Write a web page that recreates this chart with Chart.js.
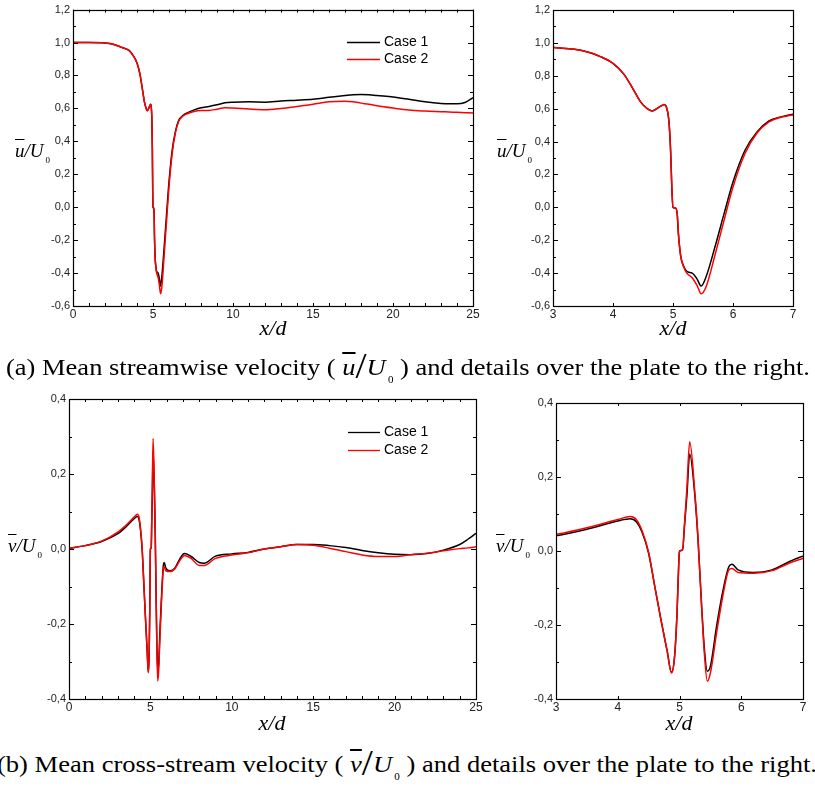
<!DOCTYPE html>
<html>
<head>
<meta charset="utf-8">
<title>Mean velocity profiles</title>
<script src="https://cdn.jsdelivr.net/npm/chart.js@4.4.1/dist/chart.umd.min.js"></script>
<style>
  body { margin: 0; background: #fff; }
  #page { position: relative; width: 815px; height: 801px; overflow: hidden; background: #fff; }
  #page canvas { position: absolute; }
  .serif { font-family: "Liberation Serif", "Times New Roman", Times, serif; }
  .xtitle { position: absolute; font-style: italic; font-size: 22px; line-height: 22px; transform: translateX(-50%); white-space: nowrap; color: #000; }
  .ytitle { position: absolute; font-style: italic; font-size: 19px; line-height: 19px; white-space: nowrap; color: #000; }
  .ov { text-decoration: overline; }
  .s0 { font-style: normal; font-size: 9px; position: relative; top: 6px; margin-left: 2px; }
  .cap { position: absolute; font-size: 24px; line-height: 26px; white-space: nowrap; transform-origin: 0 0; color: #000; }
  .cap i { font-style: italic; }
  .cap .sl { font-size: 1.5em; line-height: 0; position: relative; top: 3px; }
  .cap .c0 { font-size: 10px; position: relative; top: 8px; margin-left: 2px; }
</style>
</head>
<body>
<div id="page">
  <canvas id="uFull" width="490" height="325" style="left:0px;top:0px"></canvas>
  <canvas id="uPlate" width="315" height="325" style="left:500px;top:0px"></canvas>
  <canvas id="vFull" width="490" height="335" style="left:0px;top:385px"></canvas>
  <canvas id="vPlate" width="315" height="335" style="left:500px;top:385px"></canvas>

  <div class="xtitle serif" style="left:273px;top:317px">x/d</div>
  <div class="xtitle serif" style="left:673px;top:317px">x/d</div>
  <div class="xtitle serif" style="left:272px;top:712px">x/d</div>
  <div class="xtitle serif" style="left:679px;top:712px">x/d</div>

  <div class="ytitle serif" style="left:15px;top:141px"><span class="ov">u</span>/U<span class="s0">0</span></div>
  <div class="ytitle serif" style="left:497px;top:141px"><span class="ov">u</span>/U<span class="s0">0</span></div>
  <div class="ytitle serif" style="left:8px;top:536px"><span class="ov">v</span>/U<span class="s0">0</span></div>
  <div class="ytitle serif" style="left:496px;top:536px"><span class="ov">v</span>/U<span class="s0">0</span></div>

  <div class="cap serif" id="capA" style="top:354px">(a) Mean streamwise velocity ( <i class="ov">u</i><span class="sl">/</span><i>U</i><span class="c0">0</span> ) and details over the plate to the right.</div>
  <div class="cap serif" id="capB" style="top:751px">(b) Mean cross-stream velocity ( <i class="ov">v</i><span class="sl">/</span><i>U</i><span class="c0">0</span> ) and details over the plate to the right.</div>
</div>

<script>
// streamwise velocity u/U0 along x/d
var xU = [0, 1, 2, 2.5, 3, 3.5, 3.8, 4, 4.18, 4.34, 4.46, 4.57, 4.65, 4.75, 4.82, 4.85, 4.89, 4.93, 4.96, 4.98,
  5.0, 5.04, 5.07, 5.09, 5.13, 5.18, 5.23, 5.32, 5.4, 5.47, 5.55, 5.7, 5.85, 6.0, 6.2, 6.4, 6.6, 6.8, 7.0, 7.5,
  8, 8.5, 9, 9.5, 10, 11, 12, 13, 14, 15, 16, 17, 17.5, 18, 18.5, 19, 20, 21, 22, 23, 23.5, 24, 24.5, 25];
var uCase1 = [1.0, 1.0, 0.997, 0.99, 0.972, 0.952, 0.915, 0.875, 0.81, 0.716, 0.641, 0.6, 0.586, 0.605, 0.62, 0.625, 0.61, 0.53, 0.347, 0.124,
  0.0, -0.004, -0.04, -0.16, -0.3, -0.36, -0.39, -0.4, -0.435, -0.479, -0.424, -0.24, -0.04, 0.154, 0.347, 0.459, 0.526, 0.55, 0.566, 0.588,
  0.604, 0.612, 0.622, 0.634, 0.638, 0.64, 0.638, 0.645, 0.65, 0.656, 0.667, 0.678, 0.683, 0.685, 0.683, 0.678, 0.669, 0.655, 0.64, 0.63, 0.628, 0.628, 0.636, 0.665];
var uCase2 = [1.0, 1.0, 0.997, 0.99, 0.972, 0.952, 0.915, 0.875, 0.81, 0.716, 0.641, 0.6, 0.586, 0.605, 0.62, 0.625, 0.61, 0.53, 0.347, 0.124,
  0.0, -0.004, -0.04, -0.16, -0.3, -0.365, -0.4, -0.428, -0.475, -0.526, -0.485, -0.29, -0.08, 0.124, 0.327, 0.452, 0.52, 0.548, 0.562, 0.58,
  0.588, 0.588, 0.595, 0.604, 0.602, 0.596, 0.592, 0.6, 0.612, 0.625, 0.64, 0.644, 0.64, 0.632, 0.625, 0.616, 0.602, 0.59, 0.584, 0.58, 0.578, 0.576, 0.574, 0.572];

// cross-stream velocity v/U0 along x/d
var xV = [0, 1, 2, 3, 3.5, 4, 4.2, 4.3, 4.4, 4.5, 4.6, 4.7, 4.8, 4.87, 4.92, 4.96, 4.99, 5.0, 5.05, 5.08,
  5.12, 5.165, 5.25, 5.3, 5.35, 5.4, 5.45, 5.5, 5.6, 5.7, 5.8, 5.85, 5.95, 6.2, 6.5, 6.8, 7.0, 7.1, 7.5, 8,
  8.3, 9, 10, 11, 12, 13, 14, 15, 16, 17, 18, 19, 20, 21, 22, 23, 24, 24.5, 25];
var vCase1 = [0.002, 0.009, 0.02, 0.041, 0.059, 0.081, 0.087, 0.079, 0.048, -0.006, -0.096, -0.186, -0.27, -0.328, -0.285, -0.168, -0.024, 0.0, 0.003, 0.066,
  0.15, 0.262, 0.147, 0.03, -0.123, -0.258, -0.325, -0.312, -0.204, -0.11, -0.042, -0.036, -0.051, -0.058, -0.051, -0.027, -0.014, -0.012, -0.02, -0.036,
  -0.038, -0.019, -0.013, -0.009, 0.0, 0.006, 0.012, 0.012, 0.009, 0.004, -0.004, -0.01, -0.014, -0.015, -0.012, -0.003, 0.012, 0.026, 0.042];
var vCase2 = [0.002, 0.009, 0.021, 0.045, 0.063, 0.085, 0.093, 0.085, 0.052, -0.004, -0.096, -0.186, -0.27, -0.33, -0.287, -0.168, -0.024, 0.0, 0.003, 0.07,
  0.17, 0.295, 0.155, 0.035, -0.125, -0.27, -0.352, -0.33, -0.222, -0.123, -0.051, -0.047, -0.058, -0.06, -0.053, -0.031, -0.02, -0.017, -0.025, -0.044,
  -0.044, -0.025, -0.016, -0.01, 0.0, 0.006, 0.012, 0.01, 0.002, -0.007, -0.016, -0.02, -0.02, -0.015, -0.011, -0.005, 0.001, 0.003, 0.006];

var caseNames = ["Case 1", "Case 2"];
var caseColors = ["#000000", "#ff0000"];

// axis ranges: [min, max, major step]
var xWake = [0, 25, 5];
var xPlate = [3, 7, 1];
var uAxis = [-0.6, 1.2, 0.2];
var vAxis = [-0.4, 0.4, 0.2];

var sansFont = "'Liberation Sans', Arial, Helvetica, sans-serif";

function toPoints(xs, ys) {
  return xs.map(function (x, i) { return { x: x, y: ys[i] }; });
}

function fmtComma(value) {
  if (Math.abs(value) < 1e-9) value = 0;
  return value.toFixed(1).replace(".", ",");
}

// box frame with inward ticks on all four sides
var framePlugin = {
  id: "frame",
  afterDatasetsDraw: function (chart, args, opts) {
    var a = chart.chartArea;
    var ctx = chart.ctx;
    var sx = chart.scales.x, sy = chart.scales.y;
    ctx.save();
    ctx.strokeStyle = "#000";
    ctx.lineWidth = 1;
    ctx.beginPath();
    var n = Math.round((sx.max - sx.min) / opts.xStep);
    for (var i = 0; i <= n; i++) {
      var px = Math.round(sx.getPixelForValue(sx.min + i * opts.xStep)) + 0.5;
      ctx.moveTo(px, a.bottom); ctx.lineTo(px, a.bottom - opts.xLen);
      ctx.moveTo(px, a.top); ctx.lineTo(px, a.top + opts.xLen);
    }
    var m = Math.round((sy.max - sy.min) / opts.yStep);
    for (var j = 0; j <= m; j++) {
      var len = (j % opts.yMajorEvery === 0) ? 5 : 3;
      var py = Math.round(sy.getPixelForValue(sy.min + j * opts.yStep)) + 0.5;
      ctx.moveTo(a.left, py); ctx.lineTo(a.left + len, py);
      ctx.moveTo(a.right, py); ctx.lineTo(a.right - len, py);
    }
    ctx.stroke();
    ctx.lineWidth = 1.2;
    ctx.strokeRect(Math.round(a.left) + 0.5, Math.round(a.top) + 0.5, Math.round(a.right - a.left), Math.round(a.bottom - a.top));
    ctx.restore();
  }
};

// small legend placed inside the plot
var caseLegend = {
  id: "caseLegend",
  afterDraw: function (chart, args, opts) {
    if (!opts.show) return;
    var ctx = chart.ctx;
    ctx.save();
    ctx.font = "14px " + sansFont;
    ctx.textBaseline = "middle";
    ctx.fillStyle = "#000";
    var legendSets = chart.data.datasets.slice().sort(function (p, q) { return p.legendRank - q.legendRank; });
    legendSets.forEach(function (ds, k) {
      var y = opts.y + k * opts.gap + 0.5;
      ctx.strokeStyle = ds.borderColor;
      ctx.lineWidth = 1.3;
      ctx.beginPath();
      ctx.moveTo(opts.x, y);
      ctx.lineTo(opts.x + opts.len, y);
      ctx.stroke();
      ctx.fillText(ds.label, opts.x + opts.len + 4, y);
    });
    ctx.restore();
  }
};

function makePanel(id, xs, s1, s2, xr, yr, layout) {
  var ctx = document.getElementById(id).getContext("2d");
  var sets = [s1, s2].map(function (s, k) {
    return {
      label: caseNames[k],
      data: toPoints(xs, s),
      borderColor: caseColors[k],
      borderWidth: 1.5,
      pointRadius: 0,
      fill: false,
      cubicInterpolationMode: "monotone",
      order: k === 0 ? 1 : 0,
      legendRank: k
    };
  });
  return new Chart(ctx, {
    type: "line",
    data: { datasets: sets },
    plugins: [framePlugin, caseLegend],
    options: {
      responsive: false,
      animation: false,
      devicePixelRatio: 1,
      layout: { padding: layout.pad, autoPadding: false },
      plugins: {
        legend: { display: false },
        tooltip: { enabled: false },
        frame: { xStep: layout.xTick, xLen: 3, yStep: yr[2] / 2, yMajorEvery: 2 },
        caseLegend: layout.legend
      },
      scales: {
        x: {
          type: "linear",
          min: xr[0],
          max: xr[1],
          ticks: {
            stepSize: xr[2],
            maxRotation: 0,
            padding: 1,
            color: "#222",
            font: { family: sansFont, size: 12 },
            callback: function (v) { return String(v); }
          },
          grid: { display: false, drawTicks: false },
          border: { display: false },
          afterFit: function (scale) { scale.height = 16; }
        },
        y: {
          min: yr[0],
          max: yr[1],
          ticks: {
            stepSize: yr[2],
            padding: 3,
            color: "#222",
            font: { family: sansFont, size: 11 },
            callback: function (v) { return fmtComma(v); }
          },
          grid: { display: false, drawTicks: false },
          border: { display: false },
          afterFit: function (scale) { scale.width = 50; }
        }
      }
    }
  });
}

makePanel("uFull", xU, uCase1, uCase2, xWake, uAxis, {
  pad: { left: 23, top: 9, right: 17, bottom: 3 }, xTick: 1,
  legend: { show: true, x: 347, y: 42, gap: 17, len: 33 }
});
makePanel("uPlate", xU, uCase1, uCase2, xPlate, uAxis, {
  pad: { left: 3, top: 10, right: 22, bottom: 3 }, xTick: 1,
  legend: { show: false }
});
makePanel("vFull", xV, vCase1, vCase2, xWake, vAxis, {
  pad: { left: 19, top: 14, right: 14, bottom: 5 }, xTick: 1,
  legend: { show: true, x: 348, y: 47, gap: 18, len: 32 }
});
makePanel("vPlate", xV, vCase1, vCase2, xPlate, vAxis, {
  pad: { left: 6, top: 18, right: 12, bottom: 5 }, xTick: 1,
  legend: { show: false }
});

function fitCaption(id, left, width) {
  var el = document.getElementById(id);
  el.style.left = left + "px";
  var w = el.getBoundingClientRect().width;
  el.style.transform = "scaleX(" + (width / w) + ")";
}
fitCaption("capA", 6, 804);
fitCaption("capB", -3, 820);
</script>
</body>
</html>
